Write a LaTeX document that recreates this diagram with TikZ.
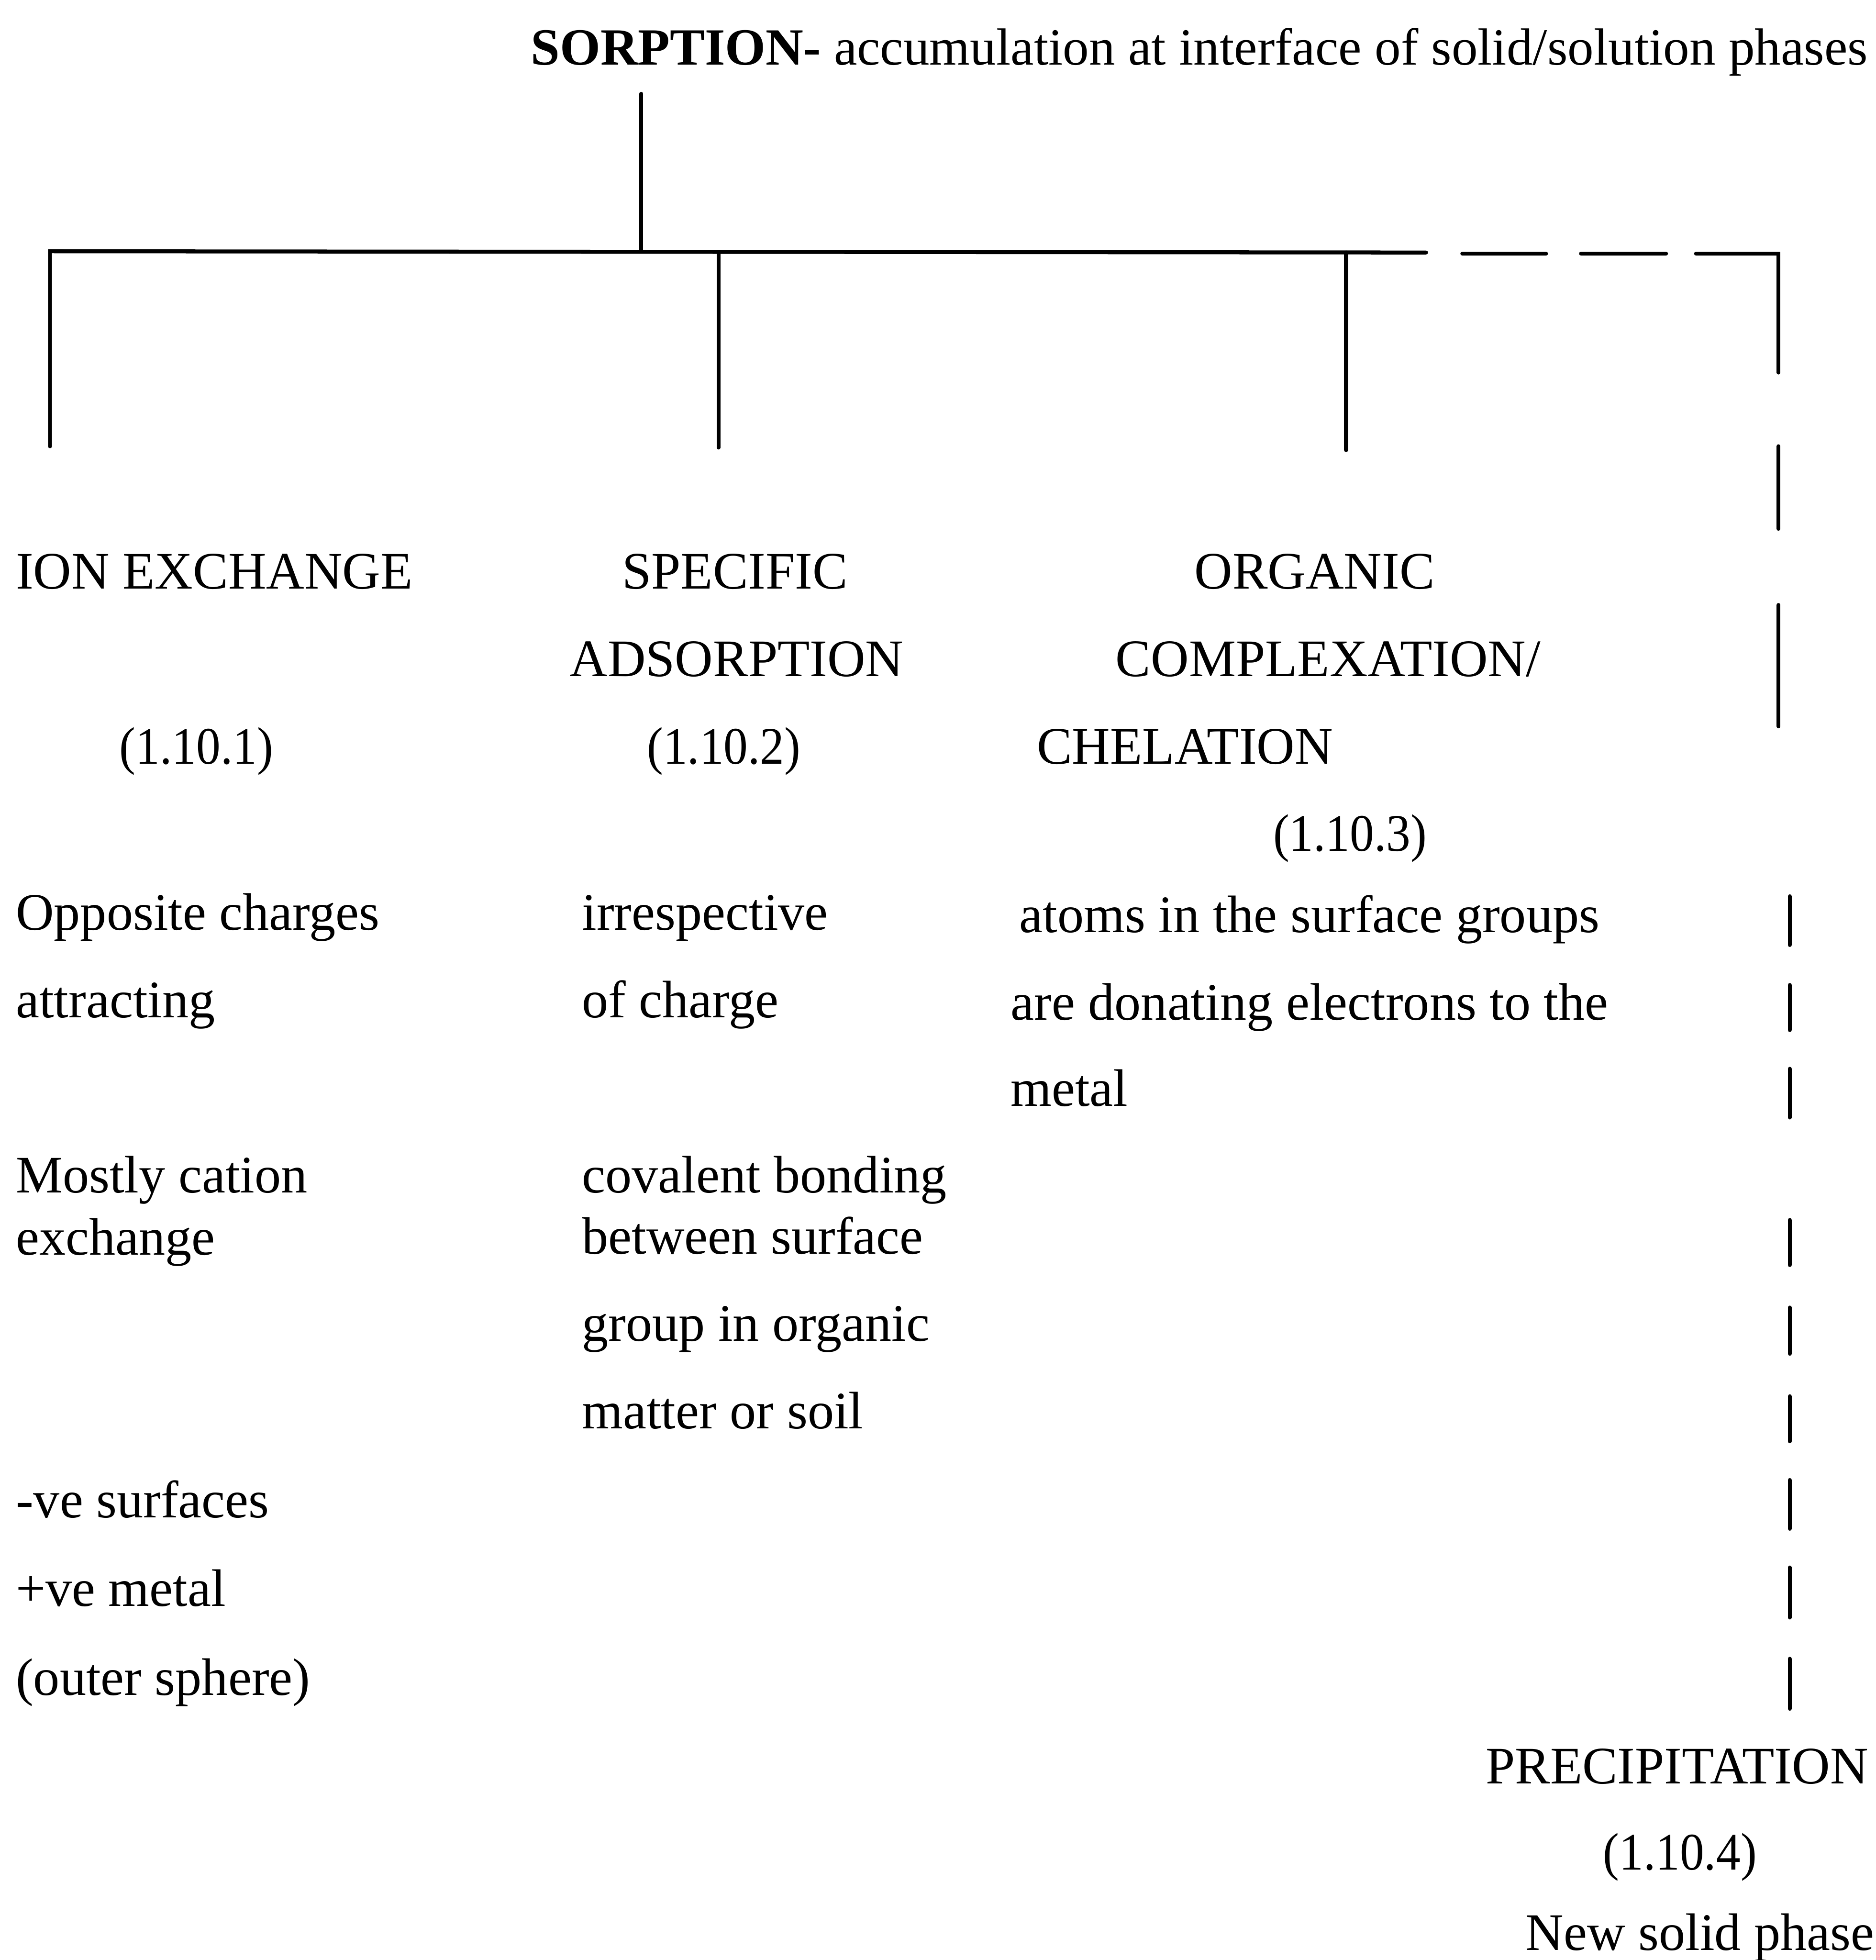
\documentclass[tikz,border=0pt]{standalone}
\usepackage{fontspec}
\setmainfont{Liberation Serif}
\newcommand{\secnum}[1]{\scalebox{0.92}[1]{#1}}
\begin{document}
\begin{tikzpicture}[x=0.01cm,y=-0.01cm,
  txt/.style={anchor=base west, inner sep=0pt, font=\fontsize{12}{14}\selectfont},
  ln/.style={line width=0.9pt, line cap=round}]
\useasboundingbox (0,0) rectangle (1501,1568);
% title
\node[txt, font=\fontsize{11.88}{14}\selectfont] (title) at (424,52) {\textbf{SORPTION-} accumulation at interface of solid/solution phases};
% column 1
\node[txt] (ion) at (12,471) {ION EXCHANGE};
\node[txt] (ionn) at (95,611) {\secnum{(1.10.1)}};
\node[txt] (c1a) at (12,744) {Opposite charges};
\node[txt] (c1b) at (12,814) {attracting};
\node[txt] (c1c) at (12,954) {Mostly cation};
\node[txt] (c1d) at (12,1004) {exchange};
\node[txt] (c1e) at (12,1214) {-ve surfaces};
\node[txt] (c1f) at (12,1285) {+ve metal};
\node[txt] (c1g) at (12,1356) {(outer sphere)};
% column 2
\node[txt] (spa) at (497,471) {SPECIFIC};
\node[txt] (spb) at (455,541) {ADSORPTION};
\node[txt] (spn) at (517,611) {\secnum{(1.10.2)}};
\node[txt] (c2a) at (465,744) {irrespective};
\node[txt] (c2b) at (465,814) {of charge};
\node[txt] (c2c) at (465,954) {covalent bonding};
\node[txt] (c2d) at (465,1003) {between surface};
\node[txt] (c2e) at (465,1073) {group in organic};
\node[txt] (c2f) at (465,1143) {matter or soil};
% column 3
\node[txt] (ora) at (955,471) {ORGANIC};
\node[txt] (orb) at (892,541) {COMPLEXATION/};
\node[txt] (orc) at (829,611) {CHELATION};
\node[txt] (orn) at (1018,681) {\secnum{(1.10.3)}};
\node[txt] (c3a) at (815,746) {atoms in the surface groups};
\node[txt] (c3b) at (808,816) {are donating electrons to the};
\node[txt] (c3c) at (808,885) {metal};
% precipitation
\node[txt] (pra) at (1188,1427) {PRECIPITATION};
\node[txt] (prn) at (1282,1496) {\secnum{(1.10.4)}};
\node[txt] (prb) at (1220,1560) {New solid phase};
% connector coordinates
\coordinate (t0) at (513,75);
\coordinate (t1) at (513,201);
\coordinate (h0) at (40,201);
\coordinate (h1) at (1141,202);
\coordinate (b1) at (40,357);
\coordinate (s0) at (575,202);
\coordinate (s1) at (575,358);
\coordinate (o0) at (1077,202);
\coordinate (o1) at (1077,360);
\coordinate (cr) at (1423,203);
% solid tree
\draw[ln] (t0) -- (t1);
\draw[ln] (b1) -- (h0) -- (h1);
\draw[ln] (s0) -- (s1);
\draw[ln] (o0) -- (o1);
% dashed part (horizontal)
\draw[ln] (1170,203) -- (1237,203);
\draw[ln] (1265,203) -- (1333,203);
\draw[ln] (1357,203) -- (cr) -- (1423,298);
% dashed part (vertical, upper)
\draw[ln] (1423,357) -- (1423,423);
\draw[ln] (1423,484) -- (1423,581);
% dashed part (vertical, lower)
\foreach \a/\b in {717/756,788/824,855/894,976/1012,1046/1083,1117/1153,1184/1223,1254/1294,1327/1367}
  \draw[ln] (1432,\a) -- (1432,\b);
\end{tikzpicture}
\end{document}
